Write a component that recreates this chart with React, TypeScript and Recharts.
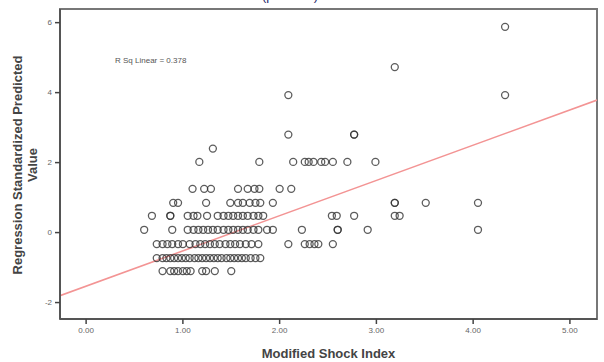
import React from 'react';
import {
  ScatterChart,
  Scatter,
  XAxis,
  YAxis,
  ReferenceLine,
  ReferenceArea,
} from 'recharts';

// Modified Shock Index values, grouped by the predicted-value level they sit on
const rowYs = [-1.1, -0.73, -0.33, 0.08, 0.48, 0.85, 1.25, 2.02, 2.4, 2.8, 3.93, 4.73, 5.88];

const rowXs: number[][] = [
  [0.79, 0.87, 0.91, 0.95, 1.0, 1.04, 1.08, 1.2, 1.24, 1.33, 1.5],
  [0.73, 0.79, 0.83, 0.87, 0.91, 0.95, 0.99, 1.03, 1.07, 1.12, 1.16, 1.2, 1.24, 1.28, 1.32, 1.36, 1.4, 1.45, 1.49, 1.53, 1.57, 1.61, 1.65, 1.7, 1.75, 1.8],
  [0.73, 0.79, 0.84, 0.89, 0.95, 1.0, 1.07, 1.13, 1.18, 1.23, 1.28, 1.33, 1.38, 1.44, 1.49, 1.54, 1.59, 1.65, 1.71, 1.78, 2.09, 2.26, 2.31, 2.36, 2.4, 2.55],
  [0.6, 0.89, 1.05, 1.11, 1.16, 1.21, 1.26, 1.31, 1.36, 1.42, 1.47, 1.52, 1.57, 1.62, 1.67, 1.73, 1.78, 1.87, 1.93, 2.23, 2.6, 2.6, 2.91, 4.05],
  [0.68, 0.87, 0.87, 1.05, 1.11, 1.15, 1.25, 1.36, 1.42, 1.47, 1.52, 1.57, 1.62, 1.67, 1.73, 1.78, 1.83, 2.54, 2.59, 2.77, 3.19, 3.24],
  [0.9, 0.95, 1.24, 1.49, 1.57, 1.62, 1.69, 1.75, 1.8, 1.93, 3.19, 3.19, 3.51, 4.05],
  [1.1, 1.22, 1.29, 1.57, 1.67, 1.74, 1.79, 2.0, 2.12],
  [1.17, 1.79, 2.14, 2.26, 2.3, 2.35, 2.43, 2.47, 2.55, 2.7, 2.99],
  [1.31],
  [2.09, 2.77, 2.77],
  [2.09, 4.33],
  [3.19],
  [4.33],
];

const xTicks = [0, 1, 2, 3, 4, 5];
const yTicks = [-2, 0, 2, 4, 6];
const xDomain = [-0.27, 5.28];
const yDomain = [-2.47, 6.39];

// linear fit, R sq = 0.378
const fitIntercept = -1.53;
const fitSlope = 1.007;

const points = rowYs.flatMap((y, i) => rowXs[i].map((x) => ({ x, y })));

const Ring = (props: any) => (
  <circle cx={props.cx} cy={props.cy} r={3.5} fill="none" stroke="#333" strokeOpacity={0.8} strokeWidth={1.3} />
);

const YLabel = () => (
  <g>
    <text
      transform="translate(22,165) rotate(-90)"
      textAnchor="middle"
      fontFamily="Liberation Sans, Arial, sans-serif"
      fontSize={13}
      fontWeight="bold"
      fill="#444"
    >
      Regression Standardized Predicted
    </text>
    <text
      transform="translate(37,165) rotate(-90)"
      textAnchor="middle"
      fontFamily="Liberation Sans, Arial, sans-serif"
      fontSize={13}
      fontWeight="bold"
      fill="#444"
    >
      Value
    </text>
  </g>
);

export default function App() {
  const tickStyle = { fill: '#666', fontSize: 8, fontFamily: 'Liberation Sans, Arial, sans-serif' };
  return (
    <div style={{ position: 'absolute', left: 0, top: 0, width: 604, height: 362, background: '#fff', overflow: 'hidden' }}>
      <div
        style={{
          position: 'absolute',
          left: 262,
          top: -12,
          color: '#1f2a6b',
          fontFamily: 'Liberation Sans, Arial, sans-serif',
          fontSize: 13,
        }}
      >
        (p&lt;0.001)
      </div>
      <ScatterChart width={604} height={362} margin={{ top: 9, right: 7, left: 0, bottom: 0 }}>
        <XAxis
          type="number"
          dataKey="x"
          domain={xDomain}
          ticks={xTicks}
          allowDataOverflow
          height={43}
          tickFormatter={(v: number) => v.toFixed(2)}
          tick={tickStyle}
          tickSize={5}
          tickMargin={3}
          axisLine={{ stroke: '#555', strokeWidth: 2 }}
          tickLine={{ stroke: '#444', strokeWidth: 1.5 }}
          label={{
            value: 'Modified Shock Index',
            position: 'insideBottom',
            offset: 4,
            fill: '#444',
            fontSize: 13,
            fontWeight: 'bold',
            fontFamily: 'Liberation Sans, Arial, sans-serif',
          }}
        />
        <YAxis
          type="number"
          dataKey="y"
          domain={yDomain}
          ticks={yTicks}
          allowDataOverflow
          width={60}
          tick={tickStyle}
          tickSize={5}
          tickMargin={3}
          axisLine={{ stroke: '#555', strokeWidth: 2 }}
          tickLine={{ stroke: '#444', strokeWidth: 1.5 }}
          label={{ content: () => <YLabel /> }}
        />
        <ReferenceArea
          x1={xDomain[0]}
          x2={xDomain[1]}
          y1={yDomain[0]}
          y2={yDomain[1]}
          fill="none"
          stroke="#777"
          strokeWidth={2}
        />
        <Scatter data={points} shape={Ring} isAnimationActive={false} />
        <ReferenceLine
          segment={[
            { x: xDomain[0], y: fitIntercept + fitSlope * xDomain[0] },
            { x: xDomain[1], y: fitIntercept + fitSlope * xDomain[1] },
          ]}
          stroke="#f39494"
          strokeWidth={1.6}
          ifOverflow="hidden"
        />
      </ScatterChart>
      <div
        style={{
          position: 'absolute',
          left: 115,
          top: 56,
          color: '#555',
          fontFamily: 'Liberation Sans, Arial, sans-serif',
          fontSize: 8,
        }}
      >
        R Sq Linear = 0.378
      </div>
    </div>
  );
}
